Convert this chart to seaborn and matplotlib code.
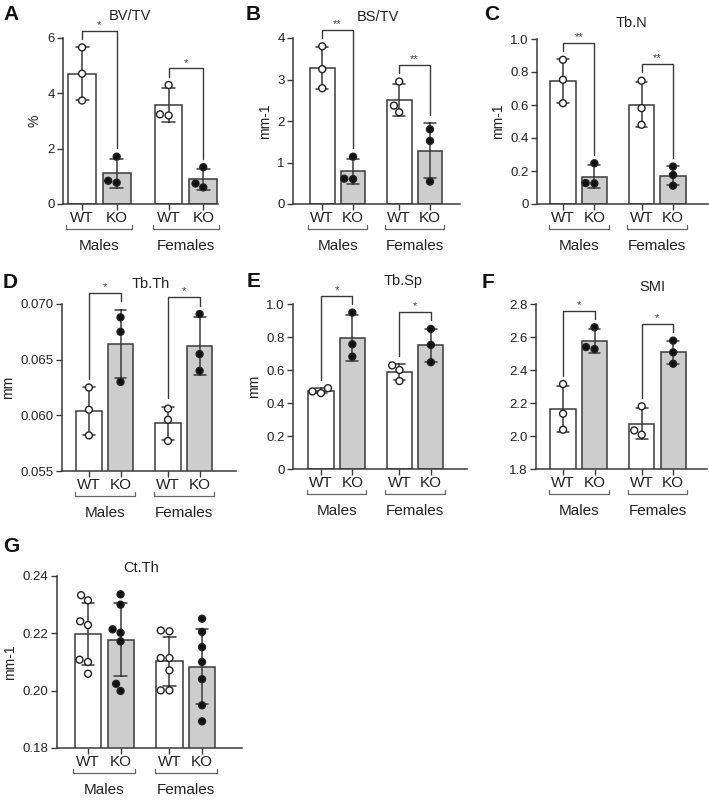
import numpy as np
import pandas as pd
import seaborn as sns
import matplotlib.pyplot as plt

sns.set_theme(style="ticks")
plt.rcParams['font.family'] = ['Liberation Sans', 'DejaVu Sans']

groups = ["Males", "Females"]
genotypes = ["WT", "KO"]

# one list per bar: WT males, KO males, WT females, KO females
bv_tv = [[5.66, 4.71, 3.74], [1.71, 0.77, 0.84], [4.30, 3.20, 3.24], [1.33, 0.60, 0.74]]
bs_tv = [[3.80, 3.25, 2.79], [1.14, 0.60, 0.61], [2.95, 2.21, 2.37], [1.80, 1.52, 0.54]]
tb_n = [[0.874, 0.753, 0.611], [0.247, 0.125, 0.127], [0.747, 0.581, 0.480], [0.227, 0.176, 0.111]]
tb_th = [[0.0625, 0.0605, 0.0582], [0.0688, 0.0675, 0.0630], [0.0606, 0.0596, 0.0577], [0.0691, 0.0655, 0.0640]]
tb_sp = [[0.49, 0.46, 0.47], [0.948, 0.756, 0.681], [0.628, 0.600, 0.533], [0.849, 0.752, 0.647]]
smi = [[2.315, 2.135, 2.038], [2.659, 2.527, 2.539], [2.180, 2.008, 2.034], [2.578, 2.507, 2.438]]
ct_th = [[0.2333, 0.2315, 0.2242, 0.2229, 0.2108, 0.2100, 0.2059],
         [0.2336, 0.2300, 0.2214, 0.2202, 0.2172, 0.2024, 0.1999],
         [0.2210, 0.2207, 0.2114, 0.2114, 0.2071, 0.2001, 0.2001],
         [0.2251, 0.2205, 0.2152, 0.2100, 0.2040, 0.1949, 0.1893]]

datasets = [bv_tv, bs_tv, tb_n, tb_th, tb_sp, smi, ct_th]
titles = ["BV/TV", "BS/TV", "Tb.N", "Tb.Th", "Tb.Sp", "SMI", "Ct.Th"]
ylabels = ["%", "mm-1", "mm-1", "mm", "mm", "", "mm-1"]
letters = ["A", "B", "C", "D", "E", "F", "G"]
stars = [["*", "*"], ["**", "**"], ["**", "**"], ["*", "*"], ["*", "*"], ["*", "*"], []]
ylims = [(0, 6), (0, 4), (0, 1.0), (0.055, 0.070), (0, 1.0), (1.8, 2.8), (0.18, 0.24)]
yticks = [[0, 2, 4, 6], [0, 1, 2, 3, 4], [0, 0.2, 0.4, 0.6, 0.8, 1.0],
          [0.055, 0.060, 0.065, 0.070], [0, 0.2, 0.4, 0.6, 0.8, 1.0],
          [1.8, 2.0, 2.2, 2.4, 2.6, 2.8], [0.18, 0.20, 0.22, 0.24]]
ytick_labels = [["0", "2", "4", "6"], ["0", "1", "2", "3", "4"],
                ["0", "0.2", "0.4", "0.6", "0.8", "1.0"],
                ["0.055", "0.060", "0.065", "0.070"],
                ["0", "0.2", "0.4", "0.6", "0.8", "1.0"],
                ["1.8", "2.0", "2.2", "2.4", "2.6", "2.8"],
                ["0.18", "0.20", "0.22", "0.24"]]

# layout in pixels of the 709x800 figure
W, H = 709, 800
boxes = [(63, 38, 218, 204), (293, 38, 460, 204), (537, 39, 708, 204),
         (62, 304, 236, 471), (293, 304, 467, 469), (536, 304, 707, 469),
         (57, 576, 242, 748)]
xlims = [(-0.42, 1.37), (-0.58, 1.59), (-0.53, 1.645), (-0.54, 1.66),
         (-0.556, 1.66), (-0.544, 1.63), (-0.58, 1.69)]
title_pos = [(130, 16), (378, 17), (631, 23), (151, 284), (403, 281), (652, 287), (141, 568)]
letter_pos = [(3, 5), (246, 5), (484, 5), (3, 273), (247, 272), (482, 273), (3, 537)]

dark = "#3a3a3a"
fig = plt.figure(figsize=(7.09, 8.0), dpi=100)

for i, data in enumerate(datasets):
    x0, y0, x1, y1 = boxes[i]
    ax = fig.add_axes([x0 / W, 1 - y1 / H, (x1 - x0) / W, (y1 - y0) / H])
    h_px = y1 - y0

    rows = []
    keys = [(s, g) for s in groups for g in genotypes]
    for (sex, gt), vals in zip(keys, data):
        for v in vals:
            rows.append((sex, gt, v))
    df = pd.DataFrame(rows, columns=["sex", "genotype", "value"])

    sns.barplot(data=df, x="sex", y="value", hue="genotype", order=groups,
                hue_order=genotypes, palette={"WT": "white", "KO": "#cdcdcd"},
                edgecolor=dark, linewidth=1.1, errorbar="sd", capsize=0.3,
                err_kws={"color": dark, "linewidth": 1.1}, gap=0.2,
                legend=False, ax=ax)
    sns.swarmplot(data=df, x="sex", y="value", hue="genotype", order=groups,
                  hue_order=genotypes, palette={"WT": "white", "KO": "#111111"},
                  dodge=True, size=5, edgecolor="#222222", linewidth=1,
                  legend=False, ax=ax)

    centers = sorted(p.get_x() + p.get_width() / 2 for p in ax.patches)

    ax.set_xlim(*xlims[i])
    ax.set_ylim(*ylims[i])
    ax.set_yticks(yticks[i])
    ax.set_yticklabels(ytick_labels[i])
    ax.set_xticks(centers)
    ax.set_xticklabels(genotypes * 2, fontsize=11)
    ax.set_xlabel("")
    ax.set_ylabel(ylabels[i], fontsize=10, color="#222222")
    ax.tick_params(axis="y", labelsize=9.5, length=4, width=1, color=dark, labelcolor="#222222", pad=2)
    ax.tick_params(axis="x", length=4, width=1, color=dark, labelcolor="#222222", pad=1)
    sns.despine(ax=ax)
    for s in ["left", "bottom"]:
        ax.spines[s].set_color(dark)
        ax.spines[s].set_linewidth(1.1)

    # Males / Females brackets under the tick labels
    yb = -25 / h_px
    yt = -21 / h_px
    ylab = -42 / h_px
    for g in range(2):
        a, b = centers[2 * g] - 0.18, centers[2 * g + 1] + 0.18
        ax.plot([a, a, b, b], [yt, yb, yb, yt], color="#666666", lw=0.9,
                transform=ax.get_xaxis_transform(), clip_on=False)
        ax.text((centers[2 * g] + centers[2 * g + 1]) / 2, ylab, groups[g],
                transform=ax.get_xaxis_transform(), ha="center", va="center",
                fontsize=11, color="#222222")

    # significance brackets
    lo, hi = ylims[i]
    rng = hi - lo
    tops = [max(max(v), np.mean(v) + np.std(v, ddof=1)) for v in data]
    for g, lab in enumerate(stars[i]):
        ca, cb = centers[2 * g], centers[2 * g + 1]
        ta, tb = tops[2 * g], tops[2 * g + 1]
        top = max(ta, tb) + 0.1 * rng
        ax.plot([ca, ca, cb, cb], [ta + 0.05 * rng, top, top, tb + 0.05 * rng],
                color=dark, lw=1, clip_on=False)
        ax.text((ca + cb) / 2, top + 0.005 * rng, lab, ha="center", va="bottom",
                fontsize=8, color="#444444")

    fig.text(title_pos[i][0] / W, 1 - title_pos[i][1] / H, titles[i],
             ha="center", va="center", fontsize=10.5, color="#222222")
    fig.text(letter_pos[i][0] / W, 1 - letter_pos[i][1] / H, letters[i],
             ha="left", va="top", fontsize=15, fontweight="bold", color="#111111")

fig.savefig("out.png", dpi=100)
